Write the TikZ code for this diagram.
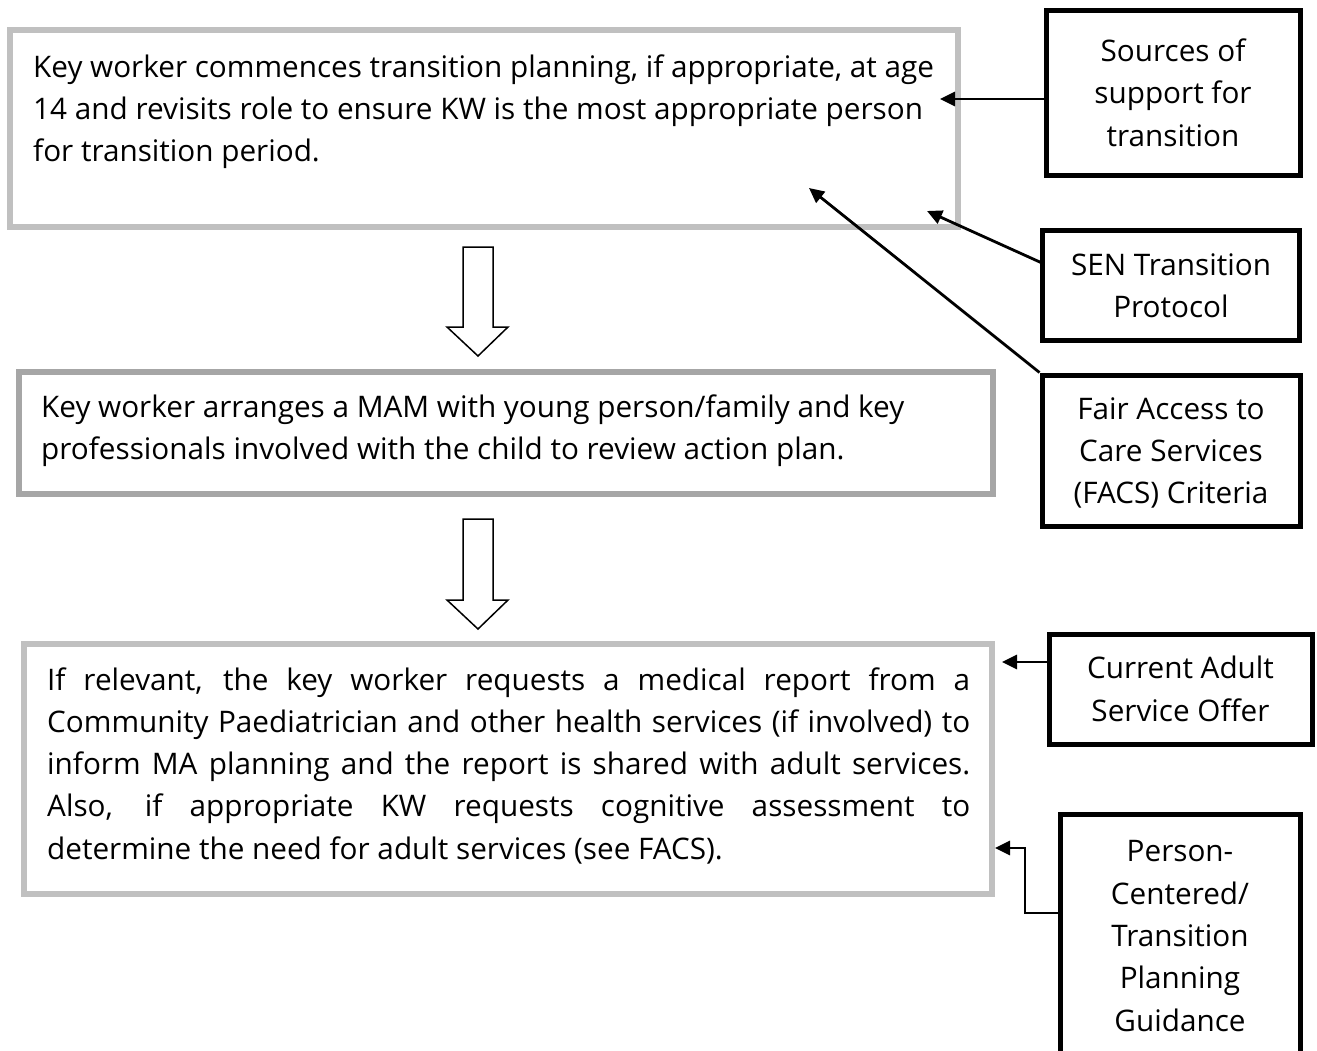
\documentclass[tikz,border=0pt]{standalone}
\usepackage{fontspec}
\setmainfont{Open Sans}
\usetikzlibrary{arrows.meta}
\newcommand\bodyfont{\fontsize{29.7}{42.3}\selectfont}
\definecolor{lightgraybox}{HTML}{C0C0C0}
\definecolor{midgraybox}{HTML}{A6A6A6}
\tikzset{
  graybox/.style={draw=#1, line width=6pt, rectangle, inner sep=0pt},
  srcbox/.style={draw=black, line width=5pt, rectangle, inner sep=0pt, align=center, font=\bodyfont},
  boxtext/.style={anchor=base west, inner sep=0pt, font=\bodyfont},
  conn/.style={line width=2.8pt, -{Triangle[length=15pt,width=14pt]}},
  blockarrow/.style={draw=black, line width=1.5pt, fill=white, line join=miter}
}
\begin{document}
\begin{tikzpicture}[x=1pt,y=-1pt]
\useasboundingbox (0,0) rectangle (1317,1050);
\clip (0,0) rectangle (1317,1050);

% main grey boxes
\node[graybox=lightgraybox, minimum width=948pt, minimum height=197pt] (box1) at (484,128.5) {};
\node[graybox=midgraybox, minimum width=974pt, minimum height=122pt] (box2) at (506,433) {};
\node[graybox=lightgraybox, minimum width=968pt, minimum height=250pt] (box3) at (508,769) {};

\node[boxtext] (t1) at (33,77) {\vtop{\hsize=925pt\parindent=0pt
Key worker commences transition planning, if appropriate, at age\\
14 and revisits role to ensure KW is the most appropriate person\\
for transition period.\par}};

\node[boxtext] (t2) at (41,417) {\vtop{\hsize=940pt\parindent=0pt
Key worker arranges a MAM with young person/family and key\\
professionals involved with the child to review action plan.\par}};

\node[boxtext] (t3) at (47,690) {\vtop{\hsize=923pt\parindent=0pt\parskip=0pt
\makebox[\hsize][s]{If relevant, the key worker requests a medical report from a}\par
\makebox[\hsize][s]{Community Paediatrician and other health services (if involved) to}\par
\makebox[\hsize][s]{inform MA planning and the report is shared with adult services.}\par
\makebox[\hsize][s]{Also, if appropriate KW requests cognitive assessment to}\par
determine the need for adult services (see FACS).\par}};

% block arrows
\draw[blockarrow] (463,247) -- (493,247) -- (493,327) -- (508,327) -- (478,356) -- (447,327) -- (463,327) -- cycle;
\draw[blockarrow] (463,519) -- (493,519) -- (493,600) -- (508,600) -- (478,629) -- (447,600) -- (463,600) -- cycle;

% source boxes
\node[srcbox, minimum width=254pt, minimum height=165pt] (src) at (1173,92.5) {Sources of\\support for\\transition};
\node[srcbox, minimum width=257pt, minimum height=110pt] (sen) at (1171,285.5) {SEN Transition\\Protocol};
\node[srcbox, minimum width=258pt, minimum height=151pt, text depth=0pt] (facs) at (1171,450.5) {Fair Access to\\Care Services\\(FACS) Criteria};
\node[srcbox, minimum width=263pt, minimum height=110pt] (cur) at (1180.5,689) {Current Adult\\Service Offer};
\node[srcbox, minimum width=240pt, minimum height=244pt] (pc) at (1180,936) {Person-\\Centered/\\Transition\\Planning\\Guidance};

% connector end points
\coordinate (e1) at (940,99);
\coordinate (s2) at (1042,263);
\coordinate (e2) at (927,211);
\coordinate (e3) at (809,188);
\coordinate (e4) at (1002,662);
\coordinate (bend) at (1025,913);
\coordinate (e5) at (995,848);

\draw[conn] (src.west |- e1) -- (e1);
\draw[conn] (s2) -- (e2);
\draw[conn] (facs.north west) -- (e3);
\draw[conn] (cur.west |- e4) -- (e4);
\draw[conn] (pc.west |- bend) -- (bend) |- (e5);
\end{tikzpicture}
\end{document}
